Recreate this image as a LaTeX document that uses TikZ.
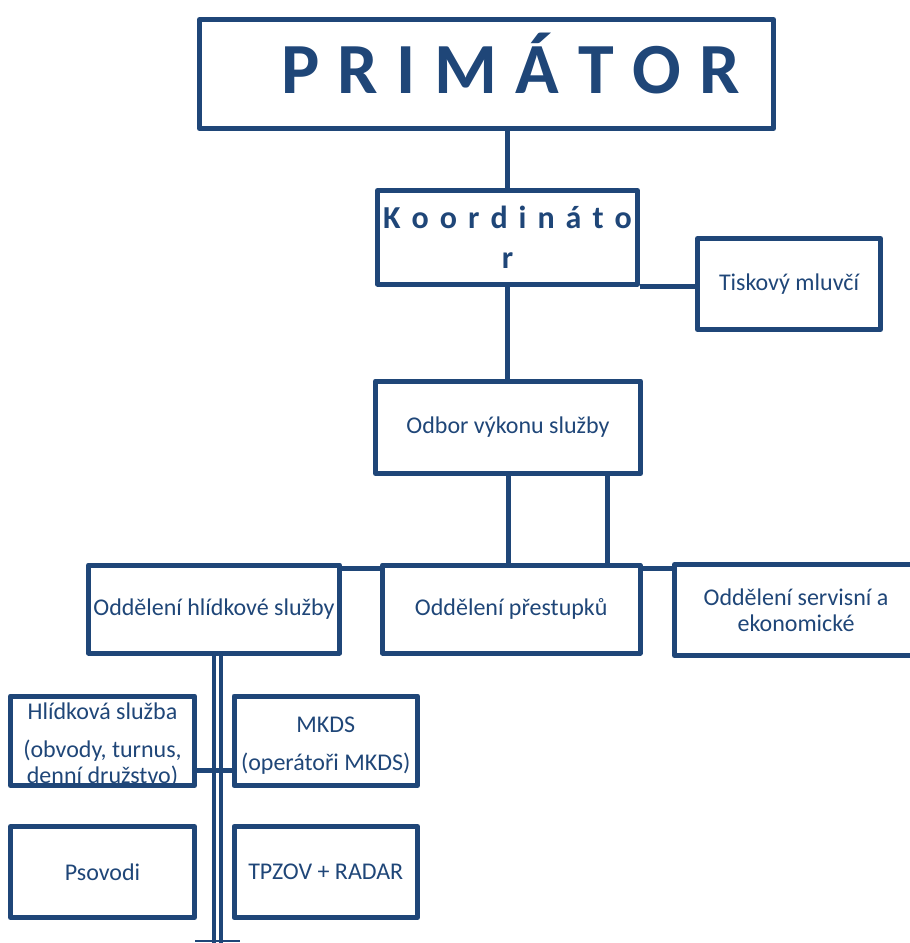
\documentclass[tikz,border=0pt]{standalone}
\usepackage{fontspec}
\setmainfont{Carlito}
\definecolor{navy}{RGB}{31,70,120}
\begin{document}
\begin{tikzpicture}[x=1pt,y=-1pt,
  box/.style={draw=navy, line width=5pt, line join=round, inner sep=0pt,
    text=navy, align=center, font=\fontsize{24}{26}\selectfont},
  link/.style={draw=navy, line width=5pt},
  lbl/.style={text=navy, inner sep=0pt, anchor=base, align=center, font=\fontsize{24}{26}\selectfont},
  big/.style={text=navy, inner sep=0pt, anchor=base, align=center}]
\useasboundingbox (0,0) rectangle (910,943);
\clip (0,0) rectangle (910,943);

% boxes
\node[box, minimum width=574pt, minimum height=109pt] (prim) at (486.5,74) {};
\node[big, font=\fontsize{72}{80}\bfseries] (primtxt) at (510.5,93)
  {{\spaceskip=18.5pt P R I M Á T O R}};
\node[box, minimum width=260pt, minimum height=93.5pt] (koord) at (507.5,237.25) {};
\node[big, font=\fontsize{32}{40}\bfseries] (koordtxt) at (507.5,268)
  {{\spaceskip=11pt K o o r d i n á t o}\\r};
\node[box, minimum width=183pt, minimum height=91pt] (tisk) at (789,284) {Tiskový mluvčí};
\node[box, minimum width=265pt, minimum height=92.5pt] (odbor) at (508,427.25) {Odbor výkonu služby};
\node[box, minimum width=251pt, minimum height=88pt] (hlid) at (214,609) {Oddělení hlídkové služby};
\node[box, minimum width=257.5pt, minimum height=88pt] (prest) at (511.25,609) {Oddělení přestupků};
\node[box, minimum width=243pt, minimum height=91pt] (serv) at (796,610) {Oddělení servisní a\\ekonomické};
\node[box, minimum width=184pt, minimum height=89.5pt] (hs) at (102.5,740.75) {};
\node[lbl] (hstxt) at (102.5,783)
  {Hlídková služba\\[12pt](obvody, turnus,\\denní družstvo)};
\node[box, minimum width=183.5pt, minimum height=89.5pt] (mkds) at (325.75,740.75) {};
\node[lbl] (mkdstxt) at (325.75,770.5) {MKDS\\[12pt](operátoři MKDS)};
\node[box, minimum width=184pt, minimum height=91pt] (psov) at (102.5,872) {Psovodi};
\node[box, minimum width=183.5pt, minimum height=91pt] (tpzov) at (325.75,872) {TPZOV + RADAR};

% helper coordinates
\coordinate (v2) at (607,0);
\coordinate (hy) at (0,568);
\coordinate (hy2) at (0,770);
\coordinate (dlend) at (217.5,945);
\coordinate (bl) at (195,941);
\coordinate (br) at (240,941);

% connectors
\draw[link] (koord.north |- prim.south) -- (koord.north);
\draw[link] (koord.south) -- (koord.south |- odbor.north);
\draw[link] (koord.south east) -- (koord.south east -| tisk.west);
\draw[link] (odbor.south) -- (odbor.south |- prest.north);
\draw[link] (odbor.south -| v2) -- (prest.north -| v2);
\draw[link] (hlid.east |- hy) -- (prest.west |- hy);
\draw[link] (prest.east |- hy) -- (serv.west |- hy);
\draw[navy, double=white, double distance=3pt, line width=4pt] (hlid.south -| dlend) -- (dlend);
\draw[link] (hs.east |- hy2) -- (mkds.west |- hy2);
\draw[navy, line width=1.5pt] (bl) -- (br);
\end{tikzpicture}
\end{document}
